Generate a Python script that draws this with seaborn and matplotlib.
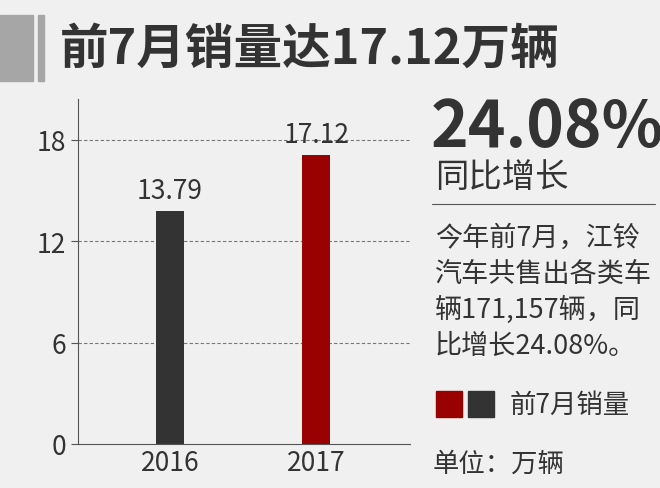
import matplotlib
matplotlib.use("Agg")
import matplotlib.pyplot as plt
import seaborn as sns
import pandas as pd
from matplotlib.patches import Rectangle

years = ["2016", "2017"]
sales = [13.79, 17.12]
colors = ["#333333", "#990000"]
yticks = [0, 6, 12, 18]

sns.set_theme(style="white")
plt.rcParams['font.family'] = ['Noto Sans CJK SC', 'DejaVu Sans']

bg = "#f0f0f0"
fig = plt.figure(figsize=(6.6, 4.89), dpi=100, facecolor=bg)
ax = fig.add_axes([0.118, 0.09, 0.503, 0.705], facecolor=bg)
df = pd.DataFrame({"year": years, "sales": sales})
sns.barplot(data=df, x="year", y="sales", hue="year", palette=colors,
            width=0.19, legend=False, ax=ax, saturation=1, linewidth=0)
ax.set_xlim(-0.63, 1.64)
ax.set_ylim(0, 20.4)
ax.set_yticks(yticks)
ax.set_yticklabels([str(t) for t in yticks], fontsize=19, color="#333333")
ax.tick_params(axis="x", labelsize=19, colors="#333333", length=0)
ax.tick_params(axis="y", length=5, width=0.8, color="#555555", left=True)
ax.set_xlabel("")
ax.set_ylabel("")
for t in yticks[1:]:
    ax.axhline(t, color="#777777", lw=0.8, ls=(0, (3, 2)), zorder=0)
for s in ["top", "right"]:
    ax.spines[s].set_visible(False)
for s in ["left", "bottom"]:
    ax.spines[s].set_color("#555555")
    ax.spines[s].set_linewidth(0.8)
for i, v in enumerate(sales):
    ax.text(i, v + 0.4, f"{v:.2f}", ha="center", va="bottom", fontsize=19, color="#333333")

# title
fig.patches.append(Rectangle((0, 1 - 82/489), 33/660, 66/489, transform=fig.transFigure, color="#a6a6a6"))
fig.patches.append(Rectangle((38/660, 1 - 82/489), 6/660, 66/489, transform=fig.transFigure, color="#a6a6a6"))
fig.text(60/660, 1 - 49/489, "前7月销量达17.12万辆", fontsize=35, fontweight="bold",
         color="#333333", va="center", ha="left")

# right side
fig.text(431/660, 1 - 128/489, "24.08%", fontsize=46, fontweight="bold", color="#333333", va="center")
fig.text(435/660, 1 - 177/489, "同比增长", fontsize=24, color="#333333", va="center")
fig.add_artist(plt.Line2D([432/660, 655/660], [1 - 205/489, 1 - 205/489], color="#555555", lw=0.8))
para = ["今年前7月，江铃", "汽车共售出各类车", "辆171,157辆，同", "比增长24.08%。"]
for i, line in enumerate(para):
    fig.text(435/660, 1 - (238 + i * 36)/489, line, fontsize=19.5, color="#333333", va="center")
fig.patches.append(Rectangle((436/660, 1 - 418/489), 26/660, 26/489, transform=fig.transFigure, color="#990000"))
fig.patches.append(Rectangle((468/660, 1 - 418/489), 26/660, 26/489, transform=fig.transFigure, color="#333333"))
fig.text(510/660, 1 - 405/489, "前7月销量", fontsize=19, color="#333333", va="center")
fig.text(433/660, 1 - 464/489, "单位：万辆", fontsize=19, color="#333333", va="center")

fig.savefig("out.png", dpi=100, facecolor=bg)
